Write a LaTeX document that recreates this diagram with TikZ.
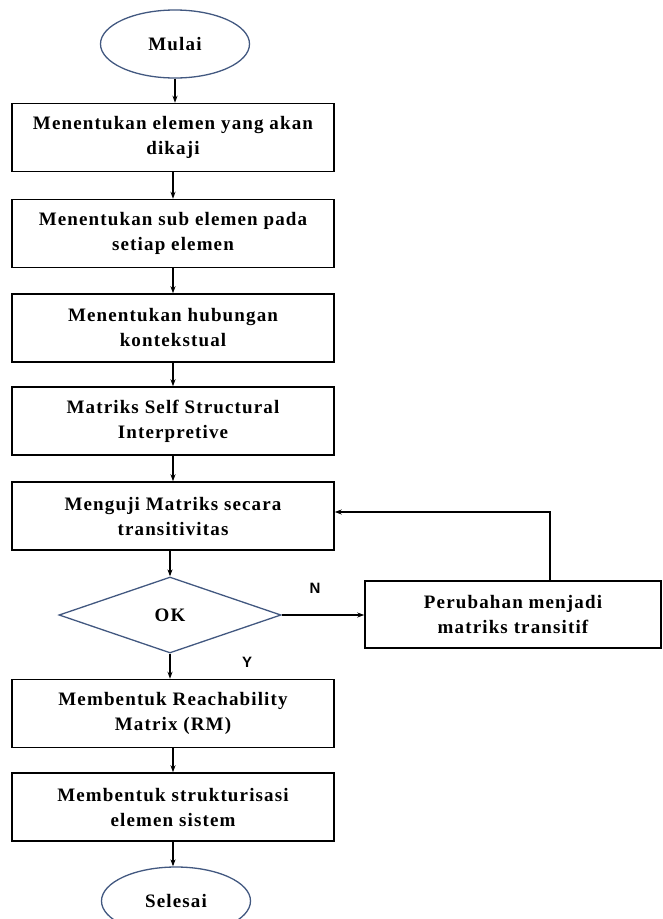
\documentclass[tikz,border=0pt]{standalone}
\usepackage{fontspec}
\setmainfont{Liberation Serif}
\setsansfont{Liberation Sans}
\newfontfamily\boxfont[LetterSpace=6]{Liberation Serif}
\usetikzlibrary{arrows.meta,shapes.geometric}

\definecolor{edgeblue}{RGB}{66,88,128}

\begin{document}
\begin{tikzpicture}[
    x=1pt, y=-1pt,
    box/.style={draw, line width=1.5pt, minimum height=68pt,
                minimum width=322pt, align=center, inner sep=2pt,
                font=\boxfont\bfseries\fontsize{19}{25}\selectfont},
    terminal/.style={ellipse, draw=edgeblue, line width=1.3pt,
                minimum width=149pt, minimum height=68pt,
                font=\boxfont\bfseries\fontsize{19}{25}\selectfont},
    choice/.style={diamond, draw=edgeblue, line width=1.3pt,
                minimum width=222pt, minimum height=76pt, inner sep=0pt,
                font=\boxfont\bfseries\fontsize{19}{25}\selectfont},
    flow/.style={-{Stealth[length=7pt,width=5pt]}, line width=1.1pt},
    note/.style={font=\sffamily\bfseries\fontsize{15}{18}\selectfont},
]

    \useasboundingbox (0,0) rectangle (662,919);

    \node[terminal] (mulai) at (175,44) {Mulai};
    \node[box] (elemen) at (173,137.5) {Menentukan elemen yang akan\\dikaji};
    \node[box] (subelemen) at (173,233.5) {Menentukan sub elemen pada\\setiap elemen};
    \node[box] (hubungan) at (173,328) {Menentukan hubungan\\kontekstual};
    \node[box] (ssim) at (173,421) {Matriks Self Structural\\Interpretive};
    \node[box] (uji) at (173,516) {Menguji Matriks secara\\transitivitas};
    \node[choice] (ok) at (170,615) {OK};
    \node[box, minimum width=296pt, minimum height=67pt] (ubah) at (513,614.5)
        {Perubahan menjadi\\matriks transitif};
    \node[box] (rm) at (173,713.5) {Membentuk Reachability\\Matrix (RM)};
    \node[box] (struktur) at (173,807) {Membentuk strukturisasi\\elemen sistem};
    \node[terminal] (selesai) at (176,901) {Selesai};

    \draw[flow] (mulai.south) -- (elemen.north -| mulai.south);
    \draw[flow] (elemen) -- (subelemen);
    \draw[flow] (subelemen) -- (hubungan);
    \draw[flow] (hubungan) -- (ssim);
    \draw[flow] (ssim) -- (uji);
    \draw[flow] (uji.south -| ok.north) -- (ok.north);
    \draw[flow] (ok.south) -- (rm.north -| ok.south);
    \draw[flow] (rm) -- (struktur);
    \draw[flow] (struktur) -- (selesai.north -| struktur.south);
    \draw[flow] (ok.east) -- (ok.east -| ubah.west);

    % loop back when not transitive
    \coordinate (turn) at (550,512);
    \draw[flow] (ubah.north -| turn) -- (turn) -- (uji.east |- turn);

    \node[note] (no) at (315,588) {N};
    \node[note] (yes) at (247,662) {Y};

\end{tikzpicture}
\end{document}
